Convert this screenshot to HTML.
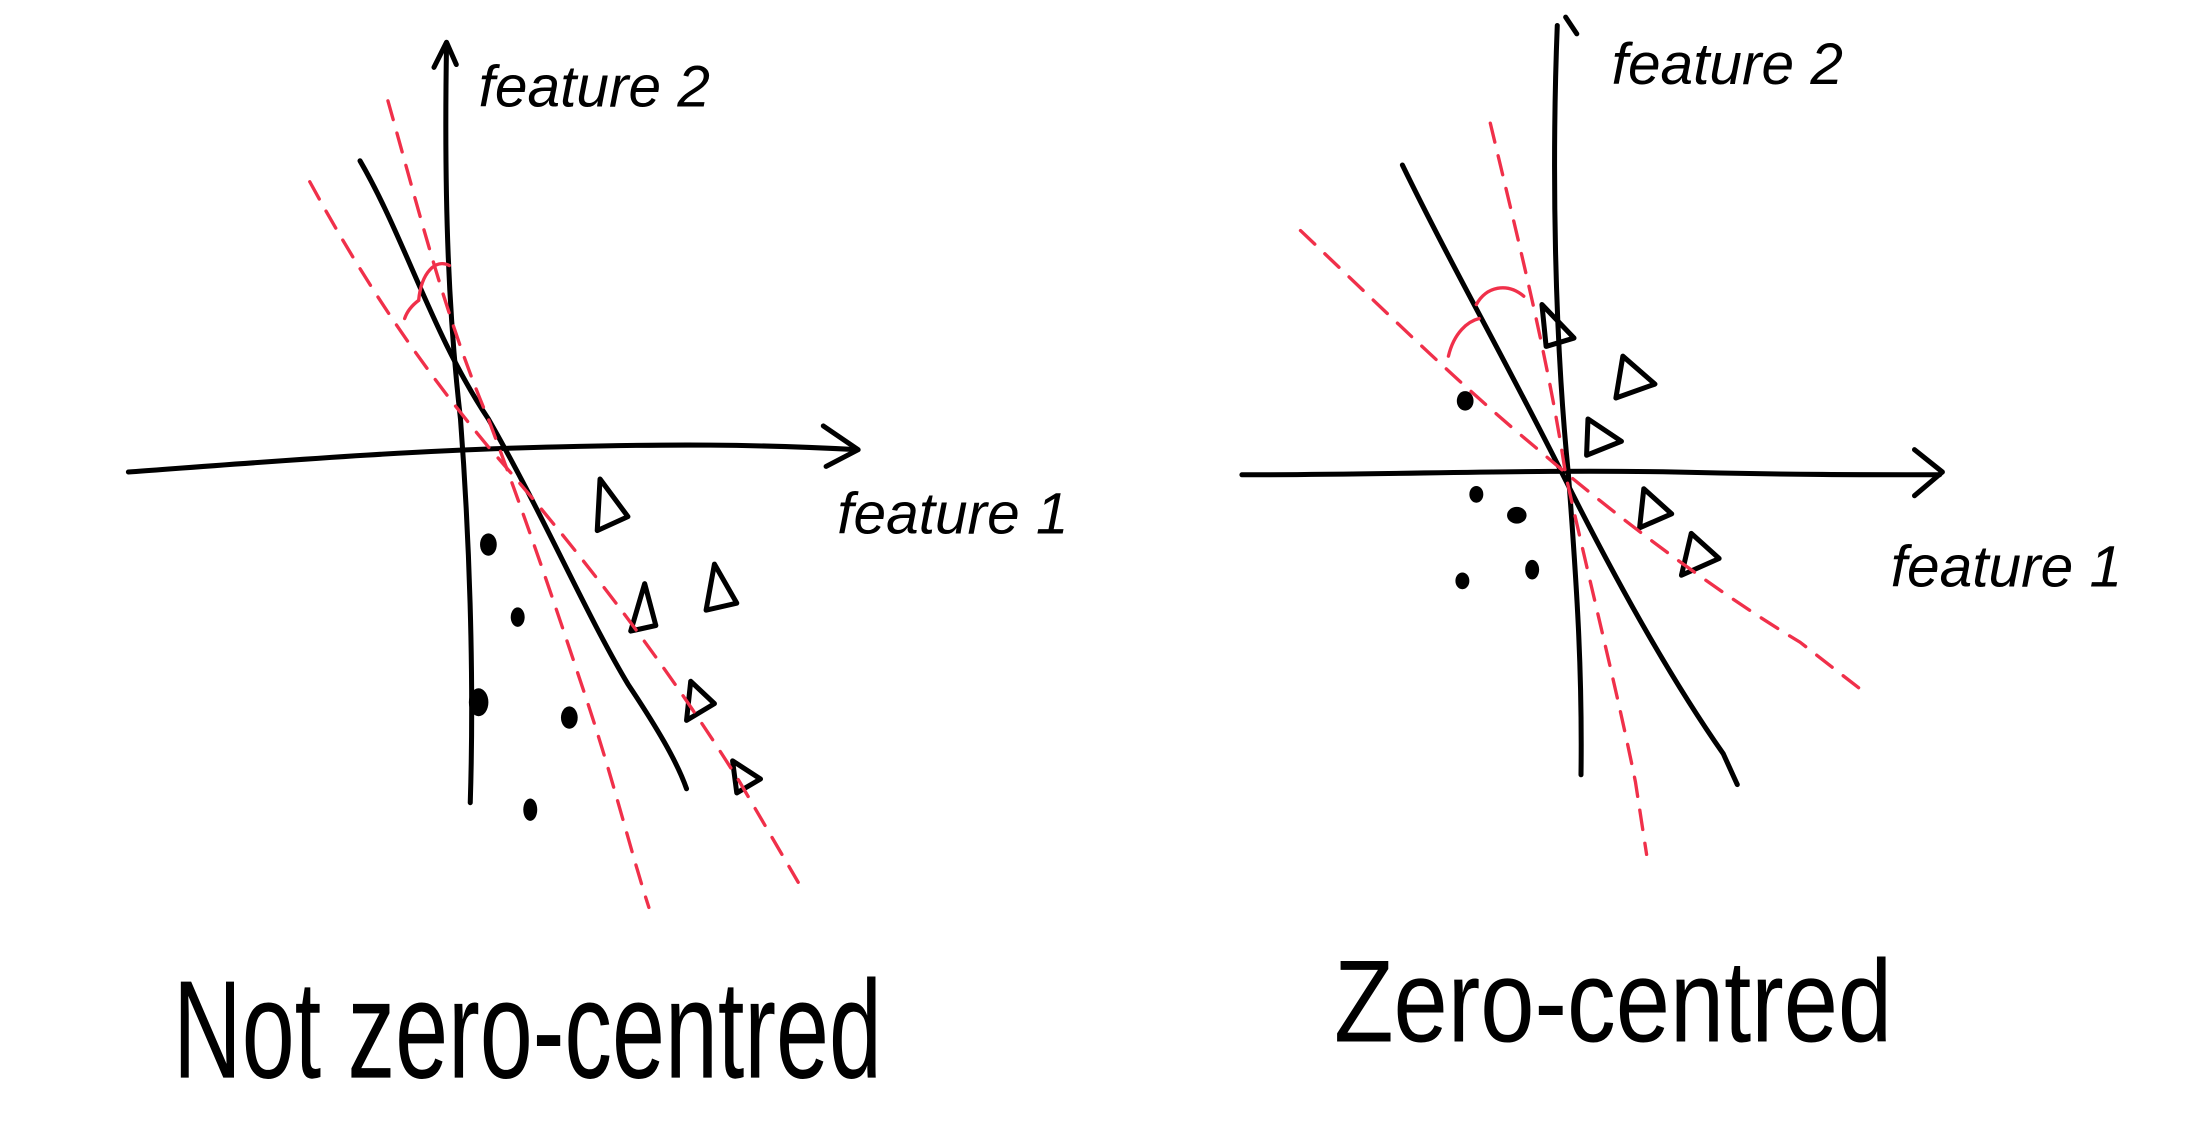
<!DOCTYPE html>
<html><head><meta charset="utf-8"><style>
html,body{margin:0;padding:0;background:#fff;}
svg{display:block;}
text{font-family:"Liberation Sans",sans-serif;fill:#000;}
</style></head><body>
<svg width="2188" height="1124" viewBox="0 0 1568 805" xmlns="http://www.w3.org/2000/svg">
<g fill="none" stroke="#000" stroke-width="3.6" stroke-linecap="round" stroke-linejoin="round">
<path d="M320 32 C318 150 322 230 330 300 C336 380 340 480 337 575"/>
<path d="M311 48 L320 30 L327 46"/>
<path d="M92 338 C200 330 300 322 400 320 C480 318 540 318 614 322"/>
<path d="M590 305 L615 322 L592 334"/>
<path d="M258 115 C290 170 310 240 350 300 C390 370 420 440 450 490 C470 520 485 545 492 565"/>
<path d="M430 343 L428 380 L450 370 Z"/>
<path d="M462 418 L452 452 L470 448 Z"/>
<path d="M512 404 L506 437 L528 432 Z"/>
<path d="M495 488 L492 516 L512 504 Z"/>
<path d="M525 545 L528 568 L545 558 Z"/>
<path d="M1116 18 C1112 120 1114 240 1124 340 C1130 420 1134 480 1133 555"/>
<path d="M1122 12 L1130 24"/>
<path d="M890 340 C1000 340 1100 336 1200 338 C1280 340 1340 340 1390 340"/>
<path d="M1372 322 L1392 338 L1372 355"/>
<path d="M1005 118 C1040 190 1080 260 1120 340 C1160 420 1200 490 1235 540 L1245 562"/>
<path d="M1105 218 L1108 248 L1128 242 Z"/>
<path d="M1163 255 L1158 285 L1186 275 Z"/>
<path d="M1138 300 L1137 326 L1162 316 Z"/>
<path d="M1178 350 L1175 378 L1198 368 Z"/>
<path d="M1212 382 L1205 412 L1232 400 Z"/>
</g>
<g fill="#000">
<ellipse cx="350" cy="390" rx="6" ry="8"/>
<ellipse cx="371" cy="442" rx="5" ry="7"/>
<ellipse cx="343" cy="503" rx="7" ry="10"/>
<ellipse cx="408" cy="514" rx="6" ry="8"/>
<ellipse cx="380" cy="580" rx="5" ry="8"/>
<ellipse cx="1050" cy="287" rx="6" ry="7"/>
<ellipse cx="1058" cy="354" rx="5" ry="6"/>
<ellipse cx="1087" cy="369" rx="7" ry="6"/>
<ellipse cx="1098" cy="408" rx="5" ry="7"/>
<ellipse cx="1048" cy="416" rx="5" ry="6"/>
</g>
<g fill="none" stroke="#f0304a" stroke-width="2.4" stroke-linecap="round" stroke-dasharray="14 10">
<path d="M278 72 C300 150 320 230 350 300 C380 380 400 440 420 500 C440 560 452 610 465 650"/>
<path d="M222 130 C260 200 300 260 350 320 C420 400 480 480 530 560 L572 632"/>
<path d="M1068 88 C1090 180 1110 260 1122 340 C1140 420 1160 500 1172 560 L1180 612"/>
<path d="M932 165 C990 220 1040 270 1100 320 C1170 380 1240 430 1290 460 L1335 495"/>
</g>
<g fill="none" stroke="#f0304a" stroke-width="2.4" stroke-linecap="round">
<path d="M300 215 C302 195 312 185 322 190"/>
<path d="M290 228 C292 222 296 218 300 215"/>
<path d="M1038 255 C1042 238 1052 230 1060 228"/>
<path d="M1058 218 C1065 205 1080 202 1092 212"/>
</g>
<g font-size="42">
<text x="343" y="76" font-style="italic">feature 2</text>
<text x="600" y="382" font-style="italic">feature 1</text>
<text x="1155" y="60" font-style="italic">feature 2</text>
<text x="1355" y="420" font-style="italic">feature 1</text>
</g>
<text x="124" y="772" font-size="100" textLength="508" lengthAdjust="spacingAndGlyphs">Not zero-centred</text>
<text x="956" y="746" font-size="84" textLength="400" lengthAdjust="spacingAndGlyphs">Zero-centred</text>
</svg>
</body></html>
